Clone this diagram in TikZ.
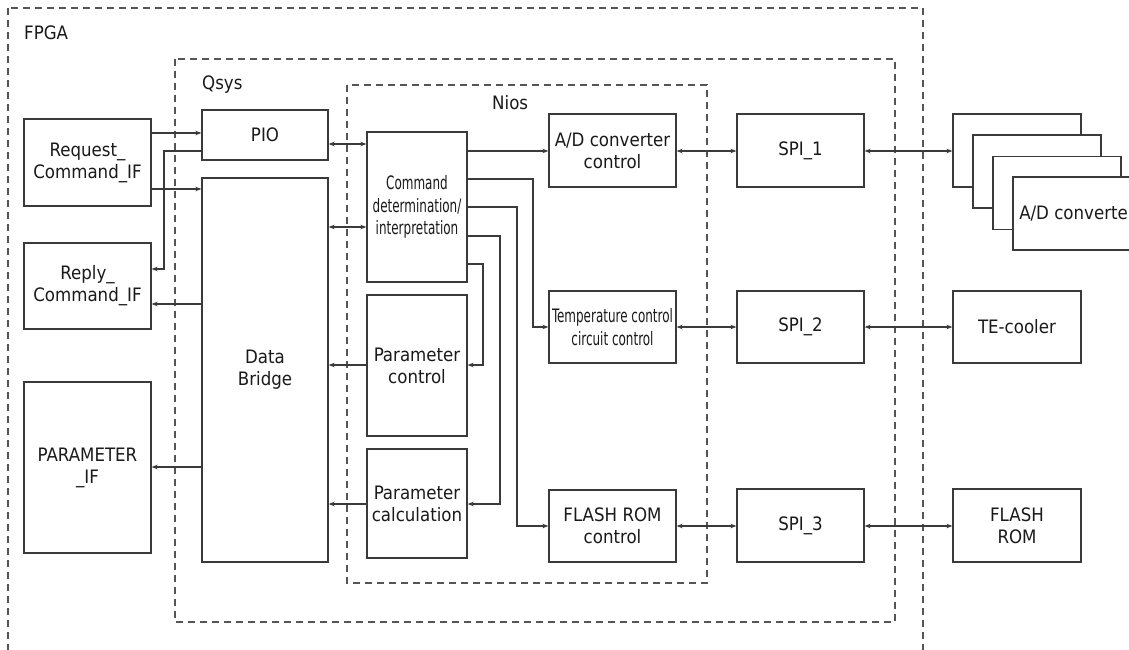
\documentclass[tikz,border=0pt]{standalone}
\usepackage{fontspec}
\setmainfont{DejaVu Sans Condensed}
\newfontfamily\narrowfont[FakeStretch=0.72]{DejaVu Sans Condensed}
\usetikzlibrary{arrows.meta}
\definecolor{linec}{HTML}{3A3A3A}
\definecolor{dashc}{HTML}{555555}
\definecolor{txtc}{HTML}{1A1A1A}
\tikzset{
  box/.style={draw=linec, line width=1.3pt, fill=white, text=txtc, align=center,
    inner sep=0pt, font=\fontsize{18.5}{22}\selectfont},
  narrowbox/.style={box, font=\narrowfont\fontsize{18.5}{22.5}\selectfont},
  group/.style={draw=dashc, dash pattern=on 7pt off 5pt, line width=1.1pt},
  grouplabel/.style={anchor=west, inner sep=0pt, text=txtc, font=\fontsize{18.5}{22}\selectfont},
  conn/.style={draw=linec, line width=1.1pt, -{Stealth[length=6pt,width=4.5pt]}},
  biconn/.style={draw=linec, line width=1.1pt, {Stealth[length=6pt,width=4.5pt]}-{Stealth[length=6pt,width=4.5pt]}},
}
\begin{document}
\begin{tikzpicture}[x=1pt,y=-1pt]
\useasboundingbox (0,0) rectangle (1129,650);
\clip (0,0) rectangle (1129,650);
\fill[white] (0,0) rectangle (1129,650);
% groups
\draw[group] (8,8) rectangle (923,700);
\draw[group] (175,59) rectangle (895,622);
\draw[group] (347,85) rectangle (707,583);
\node[grouplabel] (fpgalbl) at (24,33) {FPGA};
\node[grouplabel] (qsyslbl) at (202,85) {Qsys};
\node[grouplabel] (nioslbl) at (492,103) {Nios};
% left interfaces
\node[box, minimum width=127pt, minimum height=87pt] (req) at (87.5,162.5) {Request\_\\Command\_IF};
\node[box, minimum width=127pt, minimum height=86pt] (rep) at (87.5,286) {Reply\_\\Command\_IF};
\node[box, minimum width=127pt, minimum height=171pt] (par) at (87.5,467.5) {PARAMETER\\\_IF};
% qsys
\node[box, minimum width=126pt, minimum height=50pt] (pio) at (265,135) {PIO};
\node[box, minimum width=126pt, minimum height=384pt] (db) at (265,370) {Data\\Bridge};
% nios
\node[narrowbox, minimum width=100pt, minimum height=150pt] (cmd) at (417,207) {Command\\determination/\\interpretation};
\node[box, minimum width=100pt, minimum height=141pt] (pc) at (417,365.5) {Parameter\\control};
\node[box, minimum width=100pt, minimum height=109pt] (pcal) at (417,503.5) {Parameter\\calculation};
\node[box, minimum width=127pt, minimum height=73pt] (adc) at (612.5,150.5) {A/D converter\\control};
\node[narrowbox, minimum width=127pt, minimum height=72pt] (tcc) at (612.5,327) {Temperature control\\circuit control};
\node[box, minimum width=127pt, minimum height=72pt] (frc) at (612.5,526) {FLASH ROM\\control};
% SPI
\node[box, minimum width=127pt, minimum height=73pt] (spi1) at (800.5,150.5) {SPI\_1};
\node[box, minimum width=127pt, minimum height=72pt] (spi2) at (800.5,327) {SPI\_2};
\node[box, minimum width=127pt, minimum height=73pt] (spi3) at (800.5,525.5) {SPI\_3};
% external devices
\node[box, minimum width=128pt, minimum height=73pt] (ad1) at (1017,150.5) {};
\node[box, minimum width=128pt, minimum height=73pt] (ad2) at (1037,171.5) {};
\node[box, minimum width=128pt, minimum height=73pt] (ad3) at (1057,193) {};
\node[box, minimum width=128pt, minimum height=73pt] (ad4) at (1077,213.5) {A/D converter};
\node[box, minimum width=128pt, minimum height=72pt] (te) at (1017,327) {TE-cooler};
\node[box, minimum width=128pt, minimum height=73pt] (fr) at (1017,525.5) {FLASH\\ROM};
% connectors left
\draw[conn] (req.east |- 0,133) -- (pio.west |- 0,133);
\draw[conn] (pio.west |- 0,151) -- (164,151) -- (164,269) -- (rep.east |- 0,269);
\draw[conn] (req.east |- 0,189) -- (db.west |- 0,189);
\draw[conn] (db.west |- 0,304) -- (rep.east |- 0,304);
\draw[conn] (db.west |- 0,467) -- (par.east |- 0,467);
% qsys <-> nios
\draw[biconn] (pio.east |- 0,144) -- (cmd.west |- 0,144);
\draw[biconn] (db.east |- 0,227) -- (cmd.west |- 0,227);
\draw[conn] (pc.west |- 0,365) -- (db.east |- 0,365);
\draw[conn] (pcal.west |- 0,504) -- (db.east |- 0,504);
% command fan-out
\draw[conn] (cmd.east |- 0,151) -- (adc.west |- 0,151);
\draw[conn] (cmd.east |- 0,179) -- (533,179) -- (533,327) -- (tcc.west |- 0,327);
\draw[conn] (cmd.east |- 0,207) -- (517,207) -- (517,526) -- (frc.west |- 0,526);
\draw[conn] (cmd.east |- 0,236) -- (500,236) -- (500,504) -- (pcal.east |- 0,504);
\draw[conn] (cmd.east |- 0,264) -- (483,264) -- (483,365) -- (pc.east |- 0,365);
% to SPI
\draw[biconn] (adc.east |- 0,151) -- (spi1.west |- 0,151);
\draw[biconn] (tcc.east |- 0,327) -- (spi2.west |- 0,327);
\draw[biconn] (frc.east |- 0,526) -- (spi3.west |- 0,526);
% to devices
\draw[biconn] (spi1.east |- 0,151) -- (ad1.west |- 0,151);
\draw[biconn] (spi2.east |- 0,327) -- (te.west |- 0,327);
\draw[biconn] (spi3.east |- 0,526) -- (fr.west |- 0,526);
\end{tikzpicture}
\end{document}
